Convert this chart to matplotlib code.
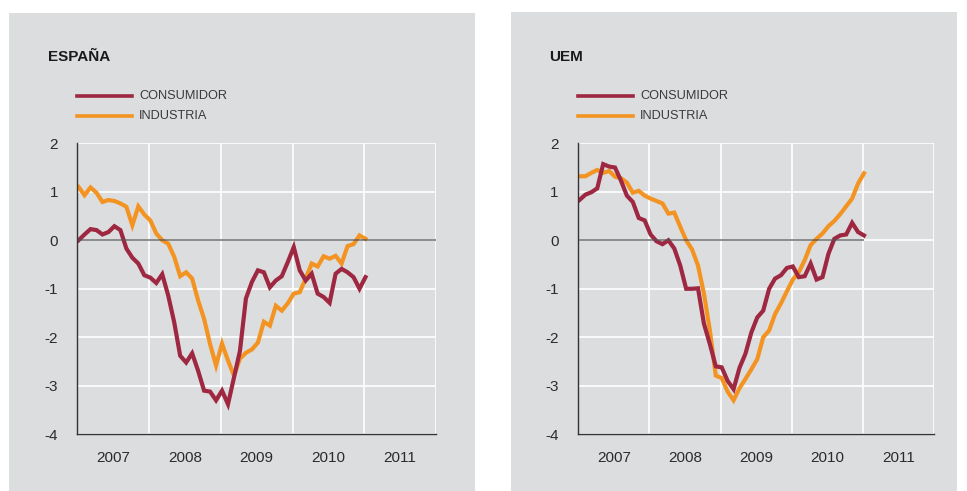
import numpy as np
import matplotlib
matplotlib.use("agg")
import matplotlib.pyplot as plt
from matplotlib.lines import Line2D
from matplotlib.patches import Rectangle

plt.rcParams["font.family"] = ["Liberation Sans", "DejaVu Sans"]

# monthly data, Jan 2007 .. Jan 2011
years = [2007, 2008, 2009, 2010, 2011]
yticks = [2, 1, 0, -1, -2, -3, -4]

esp_consumidor = [0.0, 0.12, 0.23, 0.21, 0.12, 0.17, 0.29, 0.21, -0.17, -0.36,
                  -0.48, -0.72, -0.77, -0.88, -0.70, -1.14, -1.69, -2.38, -2.52, -2.33,
                  -2.69, -3.10, -3.12, -3.30, -3.10, -3.38, -2.83, -2.28, -1.20, -0.86,
                  -0.62, -0.66, -0.97, -0.83, -0.74, -0.45, -0.14, -0.62, -0.83, -0.69,
                  -1.10, -1.17, -1.29, -0.69, -0.59, -0.66, -0.76, -1.00, -0.76]
esp_industria = [1.10, 0.93, 1.09, 0.98, 0.79, 0.83, 0.81, 0.76, 0.69, 0.31,
                 0.70, 0.53, 0.41, 0.14, 0.0, -0.07, -0.34, -0.74, -0.66, -0.79,
                 -1.24, -1.62, -2.14, -2.58, -2.13, -2.48, -2.79, -2.44, -2.32, -2.25,
                 -2.11, -1.68, -1.76, -1.35, -1.45, -1.30, -1.10, -1.07, -0.79, -0.48,
                 -0.54, -0.33, -0.38, -0.32, -0.48, -0.12, -0.08, 0.10, 0.03]

uem_consumidor = [0.83, 0.94, 0.99, 1.07, 1.57, 1.52, 1.50, 1.23, 0.92, 0.79,
                  0.46, 0.41, 0.12, -0.02, -0.08, 0.0, -0.17, -0.52, -1.00, -1.00,
                  -0.99, -1.72, -2.14, -2.60, -2.62, -2.90, -3.07, -2.63, -2.34, -1.90,
                  -1.59, -1.45, -1.00, -0.79, -0.72, -0.57, -0.54, -0.76, -0.74, -0.48,
                  -0.81, -0.76, -0.28, 0.03, 0.10, 0.12, 0.36, 0.17, 0.10]
uem_industria = [1.32, 1.32, 1.39, 1.45, 1.39, 1.43, 1.31, 1.28, 1.19, 0.98,
                 1.02, 0.92, 0.86, 0.81, 0.76, 0.55, 0.57, 0.28, 0.0, -0.19,
                 -0.52, -1.10, -1.86, -2.79, -2.84, -3.12, -3.30, -3.05, -2.86, -2.66,
                 -2.45, -2.00, -1.86, -1.52, -1.30, -1.05, -0.81, -0.66, -0.41, -0.10,
                 0.03, 0.14, 0.29, 0.40, 0.54, 0.70, 0.86, 1.17, 1.38]

RED = "#9e2741"
ORANGE = "#f39422"
BG = "#dcdddf"
TXT = "#2b2b2b"

fig = plt.figure(figsize=(9.67, 4.91), dpi=100)

# grey panels
fig.add_artist(Rectangle((0.0093, 0.0), 0.4819, 0.9735, transform=fig.transFigure,
                         facecolor=BG, edgecolor="none", zorder=0))
fig.add_artist(Rectangle((0.5284, 0.0), 0.4612, 0.9755, transform=fig.transFigure,
                         facecolor=BG, edgecolor="none", zorder=0))


def panel(left, width, title, cons, ind, full_zero):
    ax = fig.add_axes([left, 0.1155, width, 0.5927])
    ax.set_facecolor("none")
    x = 2007 + (np.arange(len(cons)) + 0.2) / 12
    ax.plot(x, ind, color=ORANGE, lw=3.0, solid_joinstyle="miter", zorder=3)
    ax.plot(x, cons, color=RED, lw=3.0, solid_joinstyle="miter", zorder=4)
    if full_zero:
        ax.axhline(0, color="#555555", lw=1.1, alpha=0.85, zorder=5)
    else:
        ax.hlines(0, x[0], x[-1], color="#555555", lw=1.1, alpha=0.85, zorder=5)

    ax.set_xlim(2007, 2012)
    ax.set_ylim(-4, 2)
    ax.set_xticks([2008, 2009, 2010, 2011, 2012])
    ax.set_xticklabels([])
    ax.set_xticks([y + 0.5 for y in years], minor=True)
    ax.set_xticklabels([str(y) for y in years], minor=True)
    ax.set_yticks(yticks)
    ax.set_yticklabels([str(v) for v in yticks])
    ax.tick_params(which="both", length=0, labelsize=11, colors=TXT)
    ax.tick_params(axis="y", pad=14)
    ax.tick_params(axis="x", which="minor", pad=12)
    ax.grid(True, which="major", color="white", lw=1.2, zorder=1)
    for s in ["top", "right"]:
        ax.spines[s].set_visible(False)
    for s in ["left", "bottom"]:
        ax.spines[s].set_color("#333333")
        ax.spines[s].set_linewidth(1.0)
        ax.spines[s].set_zorder(6)

    # title and legend in figure coords
    x0 = left - 29.5 / 967
    fig.text(x0, 1 - 57 / 491, title, fontsize=11, fontweight="bold",
             color="#1a1a1a", ha="left", va="center")
    lx0 = left
    lx1 = left + 55 / 967
    for yy, col, lab in [(96.3, RED, "CONSUMIDOR"), (115.7, ORANGE, "INDUSTRIA")]:
        yf = 1 - yy / 491
        fig.add_artist(Line2D([lx0, lx1], [yf, yf], transform=fig.transFigure,
                              color=col, lw=2.6))
        fig.text(lx1 + 7 / 967, yf, lab, fontsize=9.2, color="#3a3a3a",
                 ha="left", va="center")
    return ax


panel(0.0800, 0.3709, "ESPAÑA", esp_consumidor, esp_industria, True)
panel(0.5980, 0.3678, "UEM", uem_consumidor, uem_industria, False)

fig.savefig("out.png", dpi=100)
